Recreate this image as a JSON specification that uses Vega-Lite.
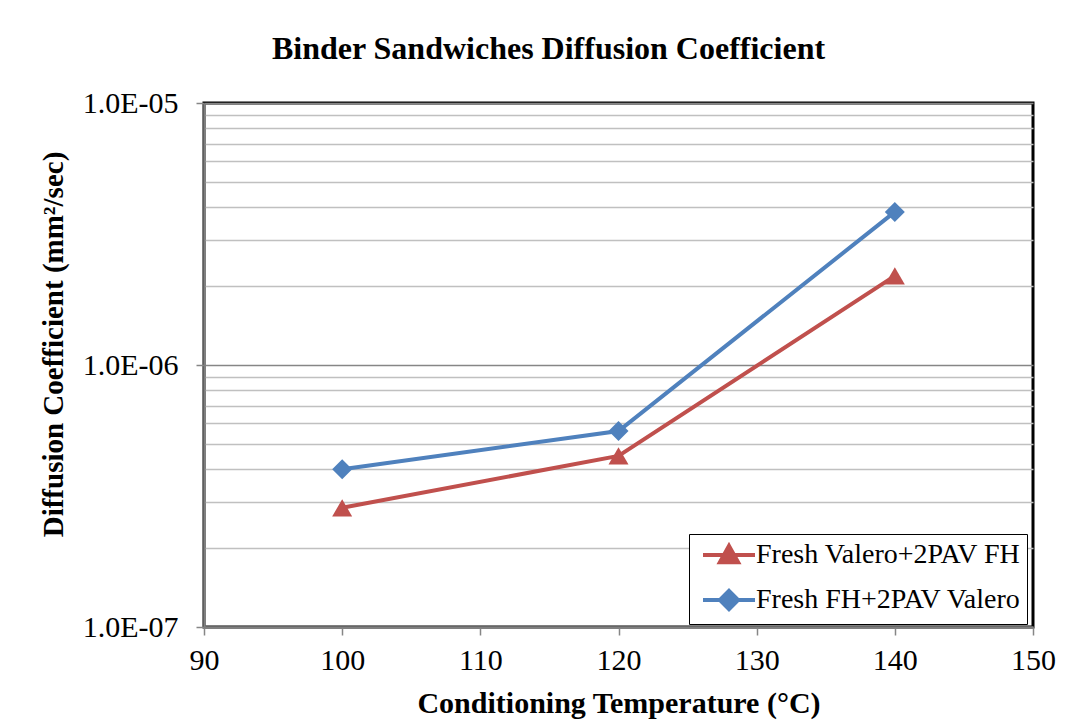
{
  "$schema": "https://vega.github.io/schema/vega-lite/v6.json",
  "autosize": {"type": "none"},
  "width": 829,
  "height": 524,
  "padding": {"left": 204, "top": 103, "right": 46, "bottom": 98},
  "background": "white",
  "title": {
    "text": "Binder Sandwiches Diffusion Coefficient",
    "font": "Liberation Serif",
    "fontSize": 32,
    "fontWeight": "bold",
    "color": "black",
    "anchor": "middle",
    "dx": -70,
    "offset": 22
  },
  "config": {
    "view": {"stroke": "black", "strokeWidth": 3},
    "font": "Liberation Serif"
  },
  "data": {
    "values": [
      {"temp": 100, "D": 2.85e-7, "series": "Fresh Valero+2PAV FH"},
      {"temp": 120, "D": 4.5e-7, "series": "Fresh Valero+2PAV FH"},
      {"temp": 140, "D": 2.19e-6, "series": "Fresh Valero+2PAV FH"},
      {"temp": 100, "D": 4.0e-7, "series": "Fresh FH+2PAV Valero"},
      {"temp": 120, "D": 5.6e-7, "series": "Fresh FH+2PAV Valero"},
      {"temp": 140, "D": 3.84e-6, "series": "Fresh FH+2PAV Valero"}
    ]
  },
  "encoding": {
    "x": {
      "field": "temp",
      "type": "quantitative",
      "scale": {"domain": [90, 150], "nice": false, "zero": false},
      "axis": {
        "values": [90, 100, 110, 120, 130, 140, 150],
        "grid": false,
        "tickSize": 8,
        "tickColor": "#868686",
        "tickWidth": 1.5,
        "domainColor": "#7f7f7f",
        "domainWidth": 2.5,
        "labelFont": "Liberation Serif",
        "labelFontSize": 30,
        "labelColor": "black",
        "labelPadding": 10,
        "labelFlush": false,
        "title": "Conditioning Temperature (°C)",
        "titleFont": "Liberation Serif",
        "titleFontSize": 30,
        "titleFontWeight": "bold",
        "titleColor": "black",
        "titlePadding": 13
      }
    },
    "y": {
      "field": "D",
      "type": "quantitative",
      "scale": {"type": "log", "domain": [1e-7, 1e-5], "nice": false},
      "axis": {
        "values": [1e-7, 2e-7, 3e-7, 4e-7, 5e-7, 6e-7, 7e-7, 8e-7, 9e-7, 1e-6, 2e-6, 3e-6, 4e-6, 5e-6, 6e-6, 7e-6, 8e-6, 9e-6, 1e-5],
        "grid": true,
        "gridWidth": 1.5,
        "gridColor": {
          "condition": {"test": "abs(log(datum.value)/LN10 - round(log(datum.value)/LN10)) < 0.01", "value": "#868686"},
          "value": "#c0c0c0"
        },
        "tickOpacity": {
          "condition": {"test": "abs(log(datum.value)/LN10 - round(log(datum.value)/LN10)) < 0.01", "value": 1},
          "value": 0
        },
        "labelExpr": "abs(log(datum.value)/LN10 - round(log(datum.value)/LN10)) < 0.01 ? '1.0E-0' + (-round(log(datum.value)/LN10)) : ''",
        "tickSize": 8,
        "tickColor": "#868686",
        "tickWidth": 1.5,
        "domainColor": "#7f7f7f",
        "domainWidth": 2.5,
        "labelFont": "Liberation Serif",
        "labelFontSize": 30,
        "labelColor": "black",
        "labelPadding": 18,
        "labelFlush": false,
        "labelOverlap": false,
        "title": "Diffusion Coefficient (mm²/sec)",
        "titleFont": "Liberation Serif",
        "titleFontSize": 29,
        "titleFontWeight": "bold",
        "titleColor": "black",
        "titlePadding": 14,
        "titleY": 241
      }
    }
  },
  "resolve": {"legend": {"color": "independent", "shape": "independent"}},
  "layer": [
    {
      "mark": {"type": "line", "strokeWidth": 4},
      "encoding": {
        "color": {
          "field": "series",
          "type": "nominal",
          "scale": {"domain": ["Fresh Valero+2PAV FH", "Fresh FH+2PAV Valero"], "range": ["#C0504D", "#4F81BD"]},
          "legend": {
            "title": null,
            "orient": "none",
            "legendX": 485,
            "legendY": 431,
            "strokeColor": "black",
            "fillColor": "white",
            "padding": 6,
            "symbolSize": 676,
            "symbolStrokeWidth": 4,
            "symbolOffset": 19,
            "labelOffset": 12,
            "labelFont": "Liberation Serif",
            "labelFontSize": 28,
            "labelColor": "black",
            "labelLimit": 400,
            "rowPadding": 11,
            "symbolType": "M-2,0H2M0,-0.7L0.7,0.55L-0.7,0.55Z",
            "encode": {
              "symbols": {
                "update": {
                  "shape": {"signal": "datum.value === 'Fresh Valero+2PAV FH' ? 'M-2,0H2M0,-0.7L0.7,0.55L-0.7,0.55Z' : 'M-2,0H2M0,-0.7L0.7,0L0,0.7L-0.7,0Z'"},
                  "fill": {"scale": "color", "field": "value"},
                  "stroke": {"scale": "color", "field": "value"},
                  "strokeWidth": {"value": 4},
                  "opacity": {"value": 1}
                }
              }
            }
          }
        }
      }
    },
    {
      "mark": {"type": "point", "filled": true, "size": 400, "opacity": 1},
      "encoding": {
        "shape": {
          "field": "series",
          "type": "nominal",
          "scale": {"domain": ["Fresh Valero+2PAV FH", "Fresh FH+2PAV Valero"], "range": ["triangle-up", "diamond"]},
          "legend": null
        },
        "color": {
          "field": "series",
          "type": "nominal",
          "scale": {"domain": ["Fresh Valero+2PAV FH", "Fresh FH+2PAV Valero"], "range": ["#C0504D", "#4F81BD"]},
          "legend": null
        }
      }
    }
  ]
}
